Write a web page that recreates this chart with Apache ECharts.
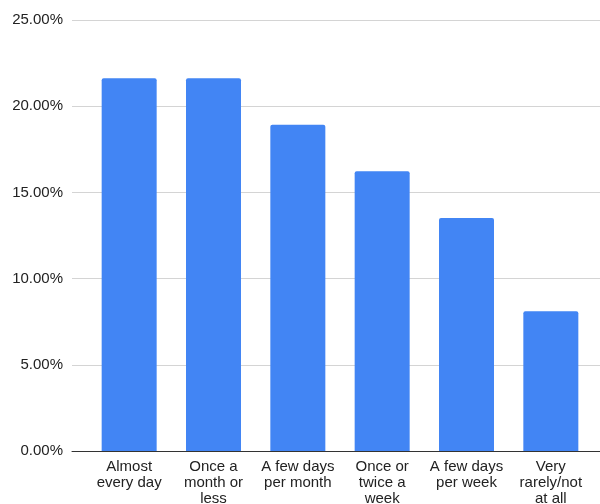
<!DOCTYPE html>
<html>
<head>
<meta charset="utf-8">
<script src="https://cdn.jsdelivr.net/npm/echarts@6/dist/echarts.min.js"></script>
<style>html,body{margin:0;padding:0;background:#fff;}#c{width:600px;height:504px;}</style>
</head>
<body>
<div id="c"></div>
<script>
const categories = ["Almost\nevery day", "Once a\nmonth or\nless", "A few days\nper month", "Once or\ntwice a\nweek", "A few days\nper week", "Very\nrarely/not\nat all"];
const values = [21.62, 21.62, 18.92, 16.22, 13.51, 8.11];
const yTicks = [0, 5, 10, 15, 20, 25];

const chart = echarts.init(document.getElementById('c'), null, {renderer: 'canvas'});
const font = 'Liberation Sans, Arial, sans-serif';
chart.setOption({
  animation: false,
  grid: [
    {left: 72, right: 0, top: 20, bottom: 53, containLabel: false, outerBoundsMode: 'none'},
    {left: 87, width: 506, top: 20, bottom: 53, containLabel: false, outerBoundsMode: 'none'}
  ],
  xAxis: [
    {gridIndex: 0, type: 'category', data: [''], axisLine: {show: true, lineStyle: {color: '#333', width: 1}}, axisTick: {show: false}, axisLabel: {show: false}},
    {gridIndex: 1, type: 'category', data: categories, axisLine: {show: false}, axisTick: {show: false},
     axisLabel: {interval: 0, color: '#222', fontFamily: font, fontSize: 15, lineHeight: 16, margin: 8}}
  ],
  yAxis: [
    {gridIndex: 0, type: 'value', min: 0, max: 25, interval: 5,
     axisLine: {show: false}, axisTick: {show: false},
     splitLine: {lineStyle: {color: '#d4d4d4', width: 1}},
     axisLabel: {color: '#222', fontFamily: font, fontSize: 15, margin: 9,
       formatter: v => yTicks.includes(v) ? v.toFixed(2) + '%' : ''}},
    {gridIndex: 1, type: 'value', min: 0, max: 25, interval: 5, show: false, splitLine: {show: false}}
  ],
  series: [{
    type: 'bar', xAxisIndex: 1, yAxisIndex: 1, data: values,
    barWidth: 55,
    itemStyle: {color: '#4285f4', borderRadius: [2, 2, 0, 0]}
  }]
});
</script>
</body>
</html>
